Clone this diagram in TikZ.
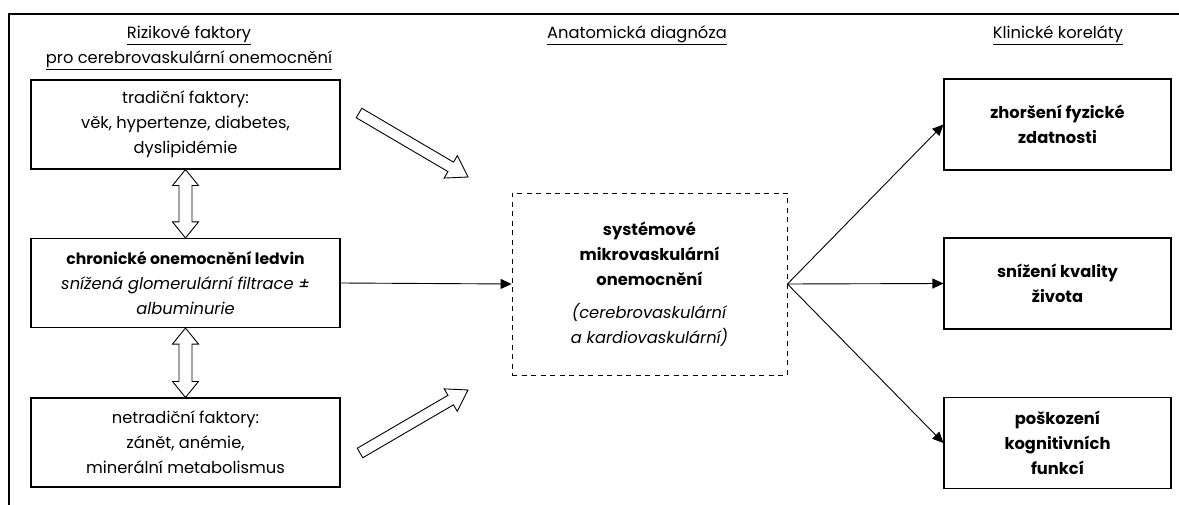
\documentclass[tikz,border=0pt]{standalone}
\usepackage{fontspec}
\setmainfont{Poppins}
\usetikzlibrary{arrows.meta,calc}
% hollow single arrow from #1 to #2
\newcommand\hollowArrowSingle[2]{%
  \draw[hol] let \p1=($(#2)-(#1)$), \n1={atan2(\y1,\x1)}, \n2={veclen(\x1,\y1)-20} in
    ($(#1)+(\n1+90:5.5pt)$) -- ++(\n1:\n2) -- ++(\n1+90:7.5pt) -- (#2)
    -- ($(#2)+(\n1+180:20pt)+(\n1-90:13pt)$) -- ++(\n1+90:7.5pt)
    -- ($(#1)+(\n1-90:5.5pt)$) -- cycle;}
% hollow double arrow between #1 and #2
\newcommand\hollowArrowDouble[2]{%
  \draw[hol] let \p1=($(#2)-(#1)$), \n1={atan2(\y1,\x1)}, \n2={veclen(\x1,\y1)-32} in
    (#1) -- ($(#1)+(\n1:16pt)+(\n1+90:13pt)$) -- ++(\n1-90:6.5pt) -- ++(\n1:\n2)
    -- ++(\n1+90:6.5pt) -- (#2) -- ($(#2)+(\n1+180:16pt)+(\n1-90:13pt)$)
    -- ++(\n1+90:6.5pt) -- ++(\n1+180:\n2) -- ++(\n1-90:6.5pt) -- cycle;}
\begin{document}
\begin{tikzpicture}[x=1pt,y=-1pt,
  txt/.style={font=\fontsize{16.3}{25}\selectfont, align=center, inner sep=0pt},
  box/.style={txt, draw, line width=1.1pt, minimum width=309pt, minimum height=89pt},
  rbox/.style={txt, draw, line width=1.1pt, minimum width=227pt, minimum height=91pt, font=\fontsize{16.3}{25}\selectfont\bfseries},
  cbox/.style={txt, draw, dash pattern=on 5pt off 4.5pt, line width=0.9pt, minimum width=275pt, minimum height=182pt},
  conn/.style={line width=0.9pt, -{Triangle[length=11pt,width=10pt]}},
  hol/.style={draw, line width=0.9pt, line join=miter},
  head/.style={txt}]
\useasboundingbox (0,0) rectangle (1179,505);
% frame
\draw[line width=1.6pt] (9,505) -- (9,14) -- (1179,14);
% headers
\node[head] (h1) at (189,47.5) {\underline{Rizikové faktory}\\\underline{pro cerebrovaskulární onemocnění}};
\node[head] (h2) at (637,35) {\underline{Anatomická diagnóza}};
\node[head] (h3) at (1058,35) {\underline{Klinické koreláty}};
% left boxes
\node[box] (b1) at (185.5,124.5) {tradiční faktory:\\věk, hypertenze, diabetes,\\dyslipidémie};
\node[box] (b2) at (185.5,283) {{\fontsize{15.6}{25}\selectfont\bfseries chronické onemocnění ledvin}\\\textit{snížená glomerulární filtrace ±}\\\textit{albuminurie}};
\node[box] (b3) at (185.5,442.5) {netradiční faktory:\\zánět, anémie,\\minerální metabolismus};
% centre box
\node[cbox] (cb) at (649.5,284) {\textbf{systémové}\\\textbf{mikrovaskulární}\\\textbf{onemocnění}\\[8pt]\textit{(cerebrovaskulární}\\\textit{a kardiovaskulární)}};
% right boxes
\node[rbox] (rA) at (1057.5,124.5) {zhoršení fyzické\\zdatnosti};
\node[rbox] (rB) at (1057.5,283.5) {snížení kvality\\života};
\node[rbox] (rC) at (1057.5,443) {poškození\\kognitivních\\funkcí};
% connectors
\draw[conn] (b2.east) -- (cb.west);
\draw[conn] (cb.east) -- (rA.west);
\draw[conn] (cb.east) -- (rB.west);
\draw[conn] (cb.east) -- (rC.west);
% hollow arrows
\coordinate (u1) at (359,113);
\coordinate (u2) at (468,177);
\coordinate (l1) at (360,453);
\coordinate (l2) at (468,390);
\hollowArrowSingle{u1}{u2}
\hollowArrowSingle{l1}{l2}
\hollowArrowDouble{b1.south}{b2.north}
\hollowArrowDouble{b2.south}{b3.north}
\end{tikzpicture}
\end{document}
